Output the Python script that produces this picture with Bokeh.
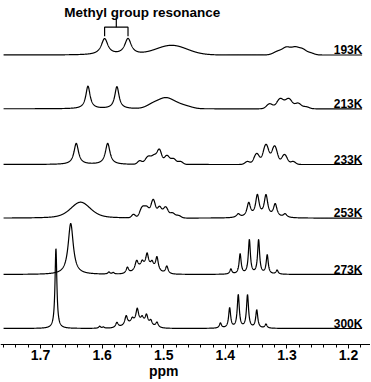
import numpy as np
from bokeh.plotting import figure
from bokeh.models import Range1d, FixedTicker, Label, ColumnDataSource
from bokeh.embed import file_html
from bokeh.resources import INLINE

# ---------------- data ----------------
# Each spectrum is a list of peaks: (ppm, height, width, shape)
# shape "L" = Lorentzian (width = half width at half maximum), "G" = Gaussian (width = sigma)
TEMPERATURES = ["193K", "213K", "233K", "253K", "273K", "300K"]

PEAKS_193K = [
    (1.596, 16.0, 0.0065, "L"), (1.558, 16.0, 0.0065, "L"),
    (1.487, 9.5, 0.025, "G"),
    (1.313, 4.0, 0.008, "G"), (1.300, 6.5, 0.006, "G"),
    (1.287, 7.0, 0.006, "G"), (1.275, 5.5, 0.006, "G"), (1.262, 2.0, 0.006, "G"),
]
PEAKS_213K = [
    (1.623, 22.5, 0.0042, "L"), (1.576, 22.0, 0.0042, "L"),
    (1.515, 5.5, 0.011, "G"), (1.497, 8.0, 0.010, "G"),
    (1.481, 5.0, 0.011, "G"), (1.462, 2.0, 0.010, "G"),
    (1.328, 5.0, 0.005, "G"), (1.311, 10.0, 0.0055, "G"),
    (1.297, 10.0, 0.0055, "G"), (1.282, 5.5, 0.005, "G"), (1.269, 2.0, 0.005, "G"),
]
PEAKS_233K = [
    (1.642, 21.0, 0.0045, "L"), (1.591, 21.0, 0.0045, "L"),
    (1.539, 3.5, 0.0035, "G"), (1.525, 8.0, 0.005, "G"), (1.515, 8.0, 0.004, "G"),
    (1.507, 14.0, 0.0035, "G"), (1.495, 9.0, 0.0045, "G"), (1.484, 5.5, 0.004, "G"),
    (1.473, 3.0, 0.004, "G"),
    (1.364, 3.0, 0.004, "G"), (1.349, 11.0, 0.0045, "G"), (1.334, 20.0, 0.0045, "G"),
    (1.320, 18.5, 0.0045, "G"), (1.304, 10.0, 0.0045, "G"), (1.290, 3.0, 0.004, "G"),
]
PEAKS_253K = [
    (1.635, 9.0, 0.016, "G"), (1.635, 7.0, 0.020, "L"),
    (1.549, 3.5, 0.003, "G"), (1.535, 10.0, 0.004, "G"), (1.527, 10.0, 0.004, "G"),
    (1.517, 18.0, 0.0035, "G"), (1.507, 11.0, 0.0035, "G"), (1.497, 11.0, 0.004, "G"),
    (1.486, 5.0, 0.004, "G"), (1.476, 2.5, 0.004, "G"),
    (1.379, 3.5, 0.0035, "L"), (1.362, 14.0, 0.0035, "L"), (1.348, 21.5, 0.0035, "L"),
    (1.334, 21.5, 0.0035, "L"), (1.319, 13.0, 0.0035, "L"), (1.303, 3.5, 0.0035, "L"),
]
PEAKS_273K = [
    (1.651, 51.0, 0.005, "L"),
    (1.589, 2.0, 0.002, "L"), (1.582, 1.5, 0.002, "L"),
    (1.528, 8.0, 0.014, "G"),
    (1.559, 6.0, 0.0025, "L"), (1.544, 9.0, 0.003, "L"), (1.535, 5.0, 0.0025, "L"),
    (1.527, 12.0, 0.0025, "L"), (1.519, 5.0, 0.0025, "L"), (1.511, 13.0, 0.0025, "L"),
    (1.495, 7.5, 0.0025, "L"),
    (1.391, 5.0, 0.002, "L"), (1.376, 20.0, 0.002, "L"), (1.361, 34.0, 0.002, "L"),
    (1.346, 34.0, 0.002, "L"), (1.332, 19.0, 0.002, "L"), (1.316, 4.0, 0.002, "L"),
]
PEAKS_300K = [
    (1.675, 80.0, 0.0018, "L"),
    (1.604, 2.0, 0.002, "L"), (1.598, 1.2, 0.002, "L"),
    (1.543, 6.0, 0.016, "G"),
    (1.576, 5.0, 0.0025, "L"), (1.561, 9.0, 0.0025, "L"), (1.551, 4.0, 0.0025, "L"),
    (1.543, 13.0, 0.0025, "L"), (1.535, 5.0, 0.0025, "L"), (1.528, 9.0, 0.0025, "L"),
    (1.521, 5.0, 0.0025, "L"), (1.511, 5.0, 0.0025, "L"),
    (1.408, 5.0, 0.002, "L"), (1.393, 20.0, 0.002, "L"), (1.379, 33.0, 0.002, "L"),
    (1.364, 33.0, 0.002, "L"), (1.349, 18.0, 0.002, "L"), (1.334, 4.0, 0.002, "L"),
]
SPECTRA = [PEAKS_193K, PEAKS_213K, PEAKS_233K, PEAKS_253K, PEAKS_273K, PEAKS_300K]

X_TICKS = [1.2, 1.3, 1.4, 1.5, 1.6, 1.7]
X_LABEL = "ppm"
TITLE = "Methyl group resonance"

# ---------------- layout ----------------
W, H = 370, 381
STACK_BASELINES = [289.5, 235.7, 180.0, 126.3, 70.0, 16.0]
X_LEFT = 1.765
X_RIGHT = X_LEFT - W / 616.0
Y_TOP = 344
Y_BOTTOM = Y_TOP - H
FONT = "Liberation Sans"


def spectrum(x, peaks):
    y = np.zeros_like(x)
    for pos, h, w, shape in peaks:
        if shape == "L":
            y += h / (1.0 + ((x - pos) / w) ** 2)
        else:
            y += h * np.exp(-0.5 * ((x - pos) / w) ** 2)
    return y


p = figure(width=W, height=H, x_range=Range1d(X_LEFT, X_RIGHT),
           y_range=Range1d(Y_BOTTOM, Y_TOP), y_axis_location=None,
           toolbar_location=None, output_backend="svg",
           min_border_left=0, min_border_right=0, min_border_top=0,
           min_border_bottom=0)
p.title.visible = False
p.outline_line_color = None
p.xgrid.visible = False
p.ygrid.visible = False
p.background_fill_color = "white"
p.border_fill_color = "white"

xs = np.linspace(1.178, 1.760, 2400)
for name, peaks, base in zip(TEMPERATURES, SPECTRA, STACK_BASELINES):
    src = ColumnDataSource(dict(x=xs, y=base + spectrum(xs, peaks)))
    p.line("x", "y", source=src, line_color="black", line_width=1.2)
    p.add_layout(Label(x=1.1775, y=base + 5, text=name, text_align="right",
                       text_baseline="alphabetic", text_font=FONT,
                       text_font_style="bold", text_font_size="12px",
                       text_color="black"))

# bracket over the two methyl peaks of the top spectrum
m1, m2 = PEAKS_193K[0][0], PEAKS_193K[1][0]
mid = 0.5 * (m1 + m2)
p.line([m1, m1, m2, m2], [308.3, 317.3, 317.3, 308.3], line_color="black", line_width=1.2)
p.line([mid, mid], [317.3, 327.3], line_color="black", line_width=1.2)
p.add_layout(Label(x=1.535, y=332, text=TITLE, text_align="center",
                   text_baseline="alphabetic", text_font=FONT,
                   text_font_style="bold", text_font_size="13.5px",
                   text_color="black"))

ax = p.xaxis[0]
ax.fixed_location = 0
ax.ticker = FixedTicker(ticks=X_TICKS,
                        minor_ticks=[round(v, 2) for v in np.arange(1.18, 1.761, 0.02)])
ax.axis_line_color = "black"
ax.axis_line_width = 1
ax.major_tick_in = 0
ax.major_tick_out = 4
ax.minor_tick_in = 0
ax.minor_tick_out = 3
ax.major_tick_line_color = "black"
ax.minor_tick_line_color = "black"
ax.major_label_standoff = 1
ax.major_label_text_font = FONT
ax.major_label_text_font_style = "bold"
ax.major_label_text_font_size = "14px"
ax.major_label_text_color = "black"

p.add_layout(Label(x=1.5, y=-26, text=X_LABEL, text_align="center",
                   text_baseline="alphabetic", text_font=FONT,
                   text_font_style="bold", text_font_size="14px",
                   text_color="black"))

open("out.html", "w").write(file_html(p, INLINE))
